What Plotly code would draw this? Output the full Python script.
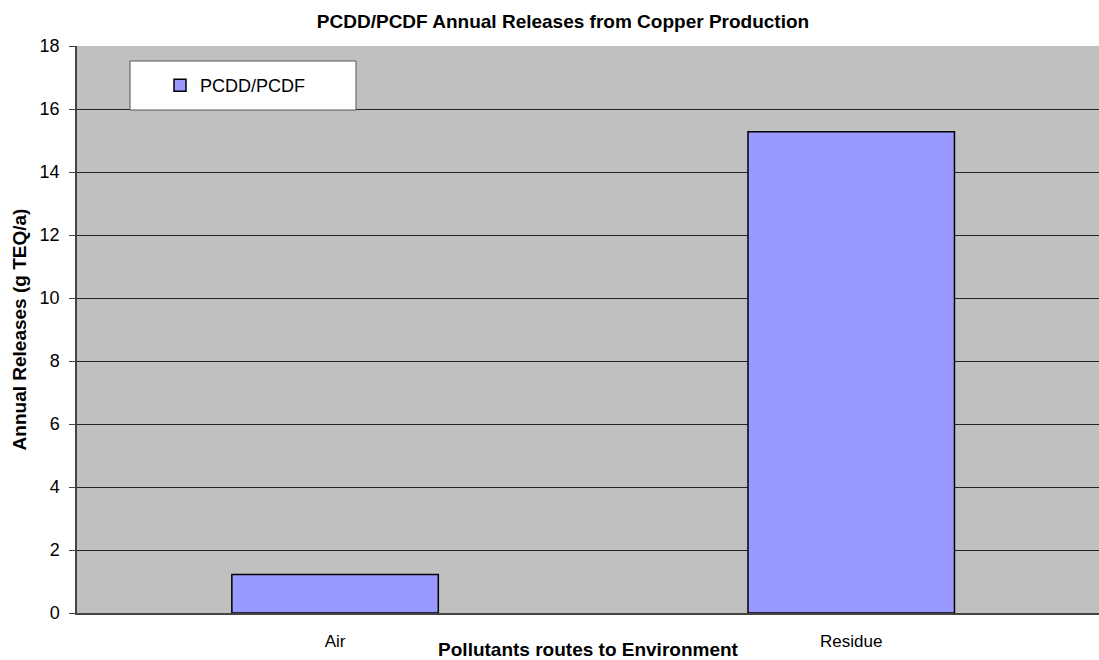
import plotly.graph_objects as go

categories = ["Air", "Residue"]
values = [1.22, 15.28]
series_name = "PCDD/PCDF"
y_ticks = [0, 2, 4, 6, 8, 10, 12, 14, 16, 18]

W, H = 1099, 660
ML, MR, MT, MB = 77, 0, 46, 47
pw = W - ML - MR
ph = H - MT - MB

def px_x(x):
    return (x - ML) / pw

def px_y(y):
    return (H - MB - y) / ph

fig = go.Figure()
fig.add_trace(go.Bar(
    x=categories, y=values, name=series_name,
    marker=dict(color="#9999ff", line=dict(color="#000000", width=1.5)),
    width=0.4, showlegend=True,
))

fig.add_shape(type="rect", xref="paper", yref="paper",
              x0=px_x(130), x1=px_x(356), y0=px_y(110), y1=px_y(61),
              fillcolor="white", line=dict(color="#555555", width=1), layer="above")

fig.update_layout(
    width=W, height=H,
    margin=dict(l=ML, r=MR, t=MT, b=MB, autoexpand=False),
    paper_bgcolor="white",
    plot_bgcolor="#c0c0c0",
    font=dict(family="Liberation Sans, Arial, sans-serif", color="#000000", size=17),
    title=dict(text="<b>PCDD/PCDF Annual Releases from Copper Production</b>",
               x=563 / W, xanchor="center", y=1 - 21 / H, yanchor="middle",
               font=dict(size=19)),
    showlegend=True,
    legend=dict(x=px_x(160), y=px_y(85.5), xanchor="left", yanchor="middle",
                bgcolor="rgba(0,0,0,0)", borderwidth=0,
                font=dict(size=18), itemwidth=30),
    xaxis=dict(
        range=[-0.5, 1.48],
        showline=True, linecolor="#444444", linewidth=1.5,
        ticks="", showgrid=False,
        tickfont=dict(size=17),
        ticklabelstandoff=12,
        automargin=False,
        title=dict(text="<b>Pollutants routes to Environment</b>", font=dict(size=19), standoff=0),
    ),
    yaxis=dict(
        range=[0, 18], tickvals=y_ticks,
        showline=True, linecolor="#444444", linewidth=1.5,
        ticks="outside", ticklen=6, tickcolor="#444444",
        ticklabelstandoff=6,
        showgrid=True, gridcolor="#222222", gridwidth=1,
        tickfont=dict(size=18),
        zeroline=False,
        automargin=False,
        title=dict(text="<b>Annual Releases (g TEQ/a)</b>", font=dict(size=19), standoff=8),
    ),
)

fig.write_html("out.html", config={"displayModeBar": False},
               post_script="document.body.style.margin='0';document.body.style.overflow='hidden';")
